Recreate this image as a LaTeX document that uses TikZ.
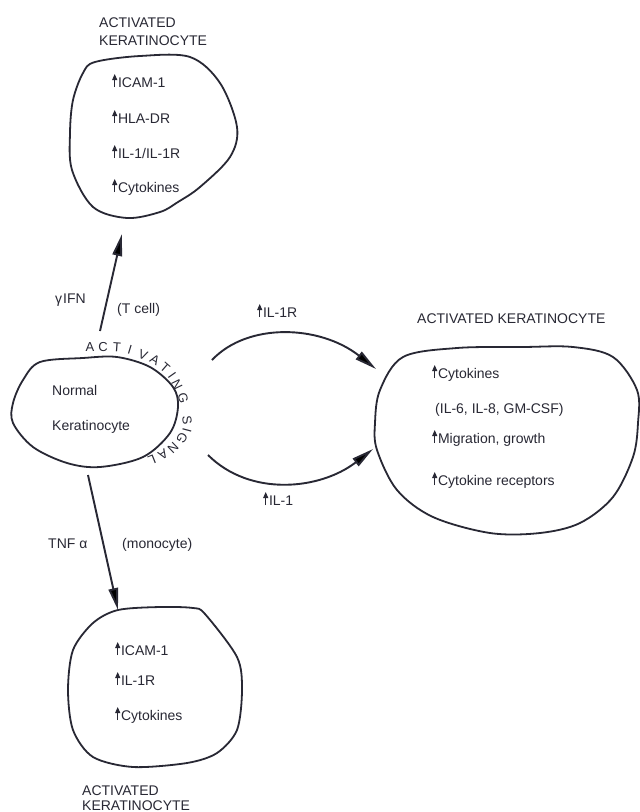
\documentclass[tikz,border=0pt]{standalone}
\usepackage{fontspec}
\setmainfont{Liberation Sans}
\usetikzlibrary{arrows.meta}
\definecolor{ink}{RGB}{40,40,52}
\newcommand\upa{\tikz[baseline=0pt]\draw[ink,line width=1pt,-{Triangle[length=6pt,width=5pt]}] (0pt,0pt)--(0pt,13pt);\kern0.8pt}
\tikzset{
  lbl/.style={font=\fontsize{14}{16}\selectfont, text=ink, inner sep=0pt, anchor=base west},
  sig/.style={font=\fontsize{13}{15}\selectfont, text=ink, inner sep=0pt, anchor=center},
  blob/.style={draw=ink, line width=1.8pt},
  conn/.style={draw=ink, line width=1.9pt, -{Triangle[length=22pt,width=9.5pt]}},
}
\begin{document}
\begin{tikzpicture}[x=1pt,y=-1pt]
\useasboundingbox (0,0) rectangle (640,812);
\fill[white] (0,0) rectangle (640,812);

% ---- top activated keratinocyte
\draw[blob] plot[smooth cycle, tension=0.55] coordinates {(95,62) (140,56) (190,57) (220,83) (237,127) (230,157) (200,187) (178,202) (160,212) (127,218) (93,207) (72,170) (70,133) (73,100) (83,73)};
\node[lbl] (tt1) at (99,27) {ACTIVATED};
\node[lbl] (tt2) at (99,45) {KERATINOCYTE};
\node[lbl] (ta1) at (112,87) {\upa ICAM-1};
\node[lbl] (ta2) at (112,123) {\upa HLA-DR};
\node[lbl] (ta3) at (112,158) {\upa IL-1/IL-1R};
\node[lbl] (ta4) at (112,192) {\upa Cytokines};

% ---- normal keratinocyte
\draw[blob] plot[smooth cycle, tension=0.55] coordinates {(40,362) (83,358) (117,357) (150,367) (173,387) (178,407) (170,433) (143,457) (100,467) (67,463) (33,447) (13,423) (13,403) (23,380)};
\node[lbl] (n1) at (52,395) {Normal};
\node[lbl] (n2) at (52,430) {Keratinocyte};
\foreach \ch/\px/\py/\rot [count=\k] in {A/90/347/0, C/103/347/0, T/117/347/-4, I/130/350/-17, V/143/355/-22, A/155/360/-31, T/165/368/-41, I/172/375/-55, N/177/385/-64, G/183/398/-74, S/187/420/-83, I/187/430/-105, G/182/438/-122, N/173/448/-136, A/163/455/-148, L/152/460/-158}
  \node[sig, rotate=\rot] (sig\k) at (\px,\py) {\ch};

% ---- gamma IFN arrow
\coordinate (ifnS) at (100,331);
\coordinate (ifnE) at (122,234);
\draw[conn] (ifnS) -- (ifnE);
\node[lbl] (ifn) at (55,303) {γ\kern1pt IFN};
\node[lbl] (tcell) at (117,313) {(T cell)};

% ---- TNF arrow
\coordinate (tnfS) at (88,475);
\coordinate (tnfE) at (118,610);
\draw[conn] (tnfS) -- (tnfE);
\node[lbl] (tnf) at (48,548) {TNF α};
\node[lbl] (mono) at (122,548) {(monocyte)};

% ---- bottom activated keratinocyte
\draw[blob] plot[smooth cycle, tension=0.5] coordinates {(118,610) (160,607) (193,608) (205,614) (237,657) (242,690) (237,730) (217,753) (187,763) (133,767) (93,757) (73,730) (68,690) (73,650) (93,623)};
\node[lbl] (ba1) at (115,655) {\upa ICAM-1};
\node[lbl] (ba2) at (115,685) {\upa IL-1R};
\node[lbl] (ba3) at (115,720) {\upa Cytokines};
\node[lbl] (bt1) at (82,795) {ACTIVATED};
\node[lbl] (bt2) at (82,810) {KERATINOCYTE};

% ---- arcs to right keratinocyte
\coordinate (a1s) at (212,360);
\coordinate (a1e) at (376,369);
\draw[conn] (a1s) .. controls (248,322) and (320,325) .. (a1e);
\node[lbl] (il1r) at (257,317) {\upa IL-1R};
\coordinate (a2s) at (208,455);
\coordinate (a2e) at (373,449);
\draw[conn] (a2s) .. controls (250,497) and (320,490) .. (a2e);
\node[lbl] (il1) at (263,505) {\upa IL-1};

% ---- right activated keratinocyte
\draw[blob] plot[smooth cycle, tension=0.55] coordinates {(403,357) (457,348) (523,347) (573,347) (613,357) (637,390) (638,423) (633,457) (613,497) (580,523) (540,533) (490,533) (433,517) (397,490) (377,450) (375,423) (380,390)};
\node[lbl] (rt) at (417,323) {ACTIVATED KERATINOCYTE};
\node[lbl] (r1) at (432,378) {\upa Cytokines};
\node[lbl] (r2) at (435,413) {(IL-6, IL-8, GM-CSF)};
\node[lbl] (r3) at (432,443) {\upa Migration, growth};
\node[lbl] (r4) at (432,485) {\upa Cytokine receptors};
\end{tikzpicture}
\end{document}
